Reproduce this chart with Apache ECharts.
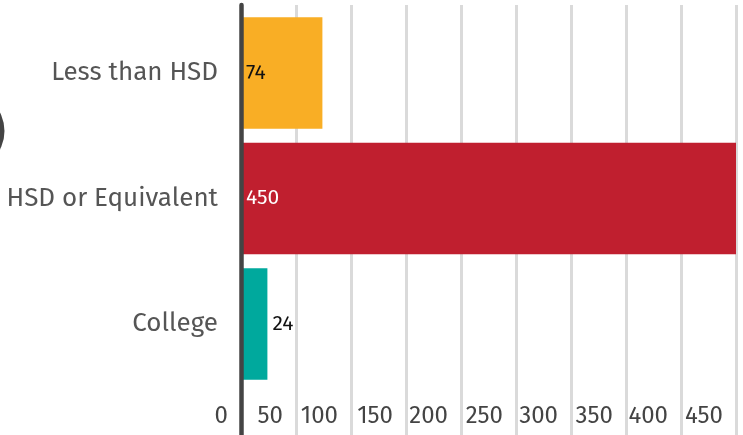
<!DOCTYPE html>
<html>
<head>
<meta charset="utf-8">
<script src="https://cdn.jsdelivr.net/npm/echarts@6/dist/echarts.min.js"></script>
<style>
html,body{margin:0;padding:0;background:#fff;}
#chart{width:743px;height:435px;}
</style>
</head>
<body>
<div id="chart"></div>
<script>
const categories = ['Less than HSD', 'HSD or Equivalent', 'College'];
const values = [74, 450, 24];
const barColors = ['#F9AE25', '#C01F2F', '#00A99D'];
const labelColors = ['#111111', '#ffffff', '#111111'];
const xTicks = { min: 0, max: 450, interval: 50 };

const FONT = '"Fira Sans", "Open Sans", "Noto Sans", sans-serif';

const chart = echarts.init(document.getElementById('chart'));
const data = values.map((v, i) => ({
  value: v,
  itemStyle: { color: barColors[i] },
  label: {
    position: v < 50 ? 'right' : 'insideLeft',
    color: labelColors[i]
  }
}));

chart.setOption({
  animation: false,
  backgroundColor: '#fff',
  grid: [
    { left: 241, right: 7, top: 10.25, height: 376.5 },
    { left: 241, right: 7, top: 5, bottom: 0 }
  ],
  xAxis: [
    { gridIndex: 0, type: 'value', min: xTicks.min, max: xTicks.max, interval: xTicks.interval, show: false },
    {
      gridIndex: 1, type: 'value', min: xTicks.min, max: xTicks.max, interval: xTicks.interval, z: 0,
      axisLine: { show: false }, axisTick: { show: false },
      splitLine: { show: true, lineStyle: { color: '#dadada', width: 3 } },
      axisLabel: {
        inside: true, margin: 7, align: 'right', padding: [0, 13, 0, 0],
        color: '#444', fontSize: 24, fontFamily: FONT,
        showMinLabel: true, showMaxLabel: true
      }
    }
  ],
  yAxis: [
    {
      gridIndex: 0, type: 'category', data: categories, inverse: true,
      axisLine: { show: false }, axisTick: { show: false },
      axisLabel: { margin: 23, color: '#555', fontSize: 26, fontFamily: FONT }
    },
    {
      gridIndex: 1, type: 'value', z: 10, offset: 2,
      axisLine: { show: true, lineStyle: { color: '#444', width: 4.5 } },
      axisTick: { show: false }, axisLabel: { show: false }, splitLine: { show: false }
    }
  ],
  graphic: [
    { type: 'circle', shape: { cx: -35.5, cy: 131, r: 40 }, style: { fill: '#444' }, silent: true }
  ],
  series: [{
    type: 'bar',
    xAxisIndex: 0, yAxisIndex: 0,
    data: data,
    barCategoryGap: '11%',
    label: { show: true, fontSize: 21, fontFamily: FONT, distance: 5 }
  }]
});
</script>
</body>
</html>
